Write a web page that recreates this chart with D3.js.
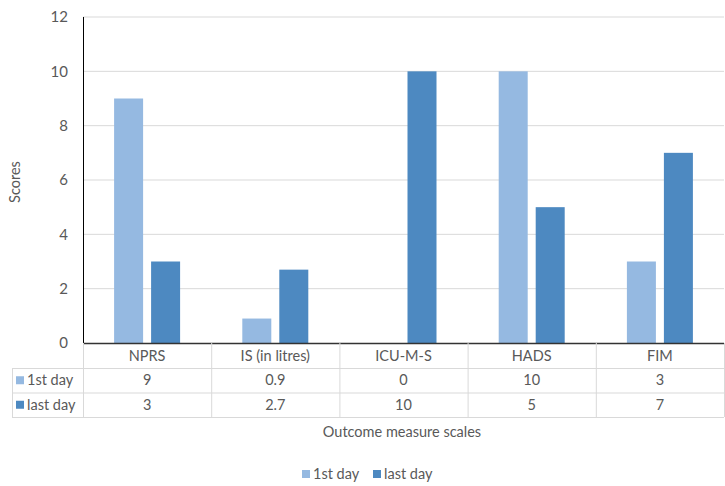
<!DOCTYPE html>
<html><head><meta charset="utf-8">
<script src="https://cdn.jsdelivr.net/npm/d3@7"></script>
<style>body{margin:0;background:#fff}svg{display:block}text{font-family:Lato,"Open Sans",sans-serif;fill:#595959}</style>
</head><body><svg id="c" width="725" height="486"></svg>
<script>
const categories = ["NPRS","IS (in litres)","ICU-M-S","HADS","FIM"];
const seriesNames = ["1st day","last day"];
const firstDay = [9,0.9,0,10,3];
const lastDay = [3,2.7,10,5,7];
const yTicks = [0,2,4,6,8,10,12];
const colors = ["#95b9e1","#4d89c1"];

const svg = d3.select("#c");
const L = 83, R = 724, T = 17, B = 343;
const FS = "14.5px";
const x = d3.scaleBand().domain(categories).range([L, R]);
const y = d3.scaleLinear().domain([0,12]).range([B, T]);
const series = [firstDay, lastDay];

// gridlines
svg.append("g").selectAll("line").data(yTicks.filter(d=>d>0)).join("line")
  .attr("x1",L).attr("x2",R).attr("y1",d=>y(d)).attr("y2",d=>y(d))
  .attr("stroke","#d9d9d9").attr("stroke-width",1);

// y axis labels
const ya = svg.append("g").attr("transform",`translate(${L},0)`)
  .call(d3.axisLeft(y).tickValues(yTicks).tickSize(0).tickPadding(15));
ya.select(".domain").remove();
ya.selectAll("text").style("font-size","15px").attr("fill","#595959");

// bars
const bw = 29, gap = 8;
series.forEach((s,i)=>{
  svg.append("g").selectAll("rect").data(s).join("rect")
    .attr("x",(d,j)=>x(categories[j]) + x.bandwidth()/2 - gap/2 - bw + i*(bw+gap))
    .attr("width",bw)
    .attr("y",d=>y(d)).attr("height",d=>B-y(d))
    .attr("fill",colors[i]);
});

// axes lines
svg.append("line").attr("x1",L+0.5).attr("x2",L+0.5).attr("y1",T).attr("y2",B).attr("stroke","#000");
svg.append("line").attr("x1",L).attr("x2",R).attr("y1",B+0.5).attr("y2",B+0.5).attr("stroke","#333").attr("stroke-width",1.5);

// data table
const rowH = 24.5, tL = 12;
const r1 = B, r2 = B+25, r3 = r2+rowH, r4 = r3+rowH;
const g = svg.append("g").attr("stroke","#d9d9d9").attr("stroke-width",1);
[r2,r3,r4].forEach(yy=>g.append("line").attr("x1",tL).attr("x2",R).attr("y1",yy+0.5).attr("y2",yy+0.5));
g.append("line").attr("x1",tL+0.5).attr("x2",tL+0.5).attr("y1",r2).attr("y2",r4);
categories.forEach(c=>g.append("line").attr("x1",x(c)+0.5).attr("x2",x(c)+0.5).attr("y1",r1).attr("y2",r4));
g.append("line").attr("x1",R+0.5).attr("x2",R+0.5).attr("y1",r1).attr("y2",r4);

svg.append("g").selectAll("text").data(categories).join("text")
  .attr("x",d=>x(d)+x.bandwidth()/2).attr("y",(r1+r2)/2+5)
  .attr("text-anchor","middle").style("font-size",FS).text(d=>d);
series.forEach((s,i)=>{
  const yy = [r2,r3][i];
  svg.append("g").selectAll("text").data(s).join("text")
    .attr("x",(d,j)=>x(categories[j])+x.bandwidth()/2).attr("y",yy+rowH/2+5)
    .attr("text-anchor","middle").style("font-size",FS).text(d=>d);
  svg.append("rect").attr("x",16).attr("y",yy+rowH/2-4).attr("width",8).attr("height",8).attr("fill",colors[i]);
  svg.append("text").attr("x",27).attr("y",yy+rowH/2+5).style("font-size",FS).text(seriesNames[i]);
});

// axis titles
svg.append("text").attr("x",402).attr("y",437).attr("text-anchor","middle").style("font-size",FS).text("Outcome measure scales");
svg.append("text").attr("transform","translate(20,182) rotate(-90)").attr("text-anchor","middle").style("font-size",FS).text("Scores");

// legend
const lg = svg.append("g").attr("transform","translate(302,479)");
const lx = [0,71];
seriesNames.forEach((n,i)=>{
  lg.append("rect").attr("x",lx[i]).attr("y",-9).attr("width",8).attr("height",8).attr("fill",colors[i]);
  lg.append("text").attr("x",lx[i]+11).attr("y",0).style("font-size",FS).text(n);
});
</script></body></html>
